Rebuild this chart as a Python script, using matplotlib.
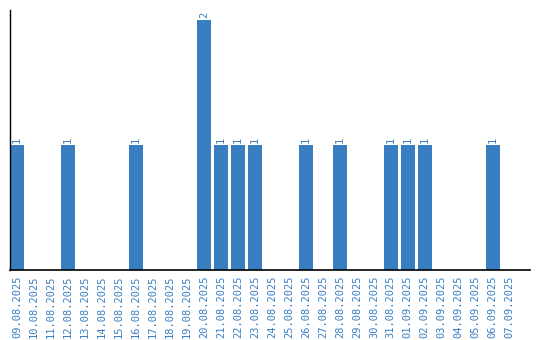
import matplotlib.pyplot as plt

dates = [
    "09.08.2025", "10.08.2025", "11.08.2025", "12.08.2025", "13.08.2025",
    "14.08.2025", "15.08.2025", "16.08.2025", "17.08.2025", "18.08.2025",
    "19.08.2025", "20.08.2025", "21.08.2025", "22.08.2025", "23.08.2025",
    "24.08.2025", "25.08.2025", "26.08.2025", "27.08.2025", "28.08.2025",
    "29.08.2025", "30.08.2025", "31.08.2025", "01.09.2025", "02.09.2025",
    "03.09.2025", "04.09.2025", "05.09.2025", "06.09.2025", "07.09.2025",
]
counts = [1, 0, 0, 1, 0, 0, 0, 1, 0, 0, 0, 2, 1, 1, 1,
          0, 0, 1, 0, 1, 0, 0, 1, 1, 1, 0, 0, 0, 1, 0]

blue = "#3a7ec2"
bar_w = 0.82

fig = plt.figure(figsize=(5.4, 3.4), dpi=100)
ax = fig.add_axes([10 / 540, 70 / 340, 520 / 540, 260 / 340])

x = list(range(len(dates)))
ax.bar(x, counts, width=bar_w, align="edge", color=blue)

# value labels above the bars
for i, c in zip(x, counts):
    if c > 0:
        ax.text(i + bar_w / 2, c + 0.02, str(c), rotation=90, ha="center", va="bottom",
                color=blue, fontsize=7.5, family="DejaVu Sans Mono")

ax.set_xlim(0, 30.6)
ax.set_ylim(0, 2.08)
ax.set_xticks([i + bar_w / 2 for i in x])
ax.set_xticklabels(dates, rotation=90, color=blue, fontsize=7.5, family="DejaVu Sans Mono")
ax.tick_params(axis="x", length=0, pad=4)
ax.set_yticks([])
ax.spines["top"].set_visible(False)
ax.spines["right"].set_visible(False)
ax.spines["left"].set_linewidth(1)
ax.spines["bottom"].set_linewidth(1.2)

fig.savefig("out.png", dpi=100)
